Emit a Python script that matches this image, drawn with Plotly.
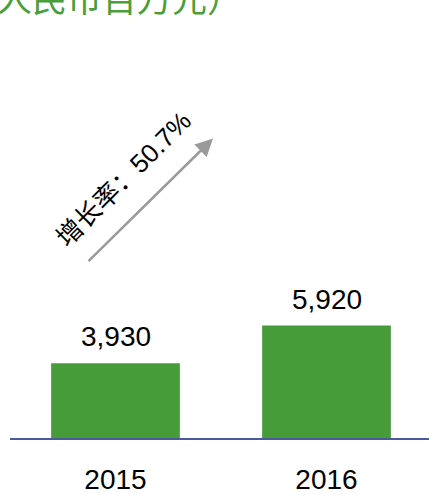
import plotly.graph_objects as go

years = ["2015", "2016"]
revenue = [3930, 5920]
value_labels = ["3,930", "5,920"]
title_text = "（人民币百万元）"
growth_text = "增长率：50.7%"

W, H = 429, 495
ml, mr, mt, mb = 10, 0, 57, 55
pw, ph = W - ml - mr, H - mt - mb

def px(x):
    return (x - ml) / pw

def py(y):
    return (H - mb - y) / ph

GREEN = "#469c38"
FONT = "Liberation Sans, Arial, Noto Sans CJK SC, sans-serif"

fig = go.Figure()
fig.add_trace(go.Bar(
    x=years, y=revenue, marker=dict(color=GREEN, line=dict(width=0)),
    width=0.61, hoverinfo="skip",
))

annotations = []
for i, (v, lab) in enumerate(zip(revenue, value_labels)):
    annotations.append(dict(
        x=i, y=v, xref="x", yref="y", text=lab, showarrow=False,
        yanchor="bottom", xanchor="center", yshift=9,
        font=dict(family=FONT, size=28, color="#000000"),
    ))

# title (partly outside the visible page)
annotations.append(dict(
    x=px(-40), y=py(-3.5), xref="paper", yref="paper", text=title_text,
    showarrow=False, xanchor="left", yanchor="middle",
    font=dict(family="Noto Sans CJK SC", size=35, color="#4a9e3a"),
))

# growth arrow
annotations.append(dict(
    x=px(213), y=py(139), xref="paper", yref="paper", text="",
    showarrow=True, ax=87 - 213, ay=263 - 139, axref="pixel", ayref="pixel",
    arrowhead=2, arrowsize=1.4, arrowwidth=2.5, arrowcolor="#9a9a9a",
    standoff=0, startstandoff=0,
))
annotations.append(dict(
    x=px(124), y=py(180), xref="paper", yref="paper", text=growth_text,
    showarrow=False, textangle=-45, xanchor="center", yanchor="middle",
    font=dict(family="Liberation Sans, Arial, Noto Sans CJK SC", size=26, color="#000000"),
))

fig.update_layout(
    width=W, height=H,
    margin=dict(l=ml, r=mr, t=mt, b=mb, pad=0),
    paper_bgcolor="white", plot_bgcolor="white",
    showlegend=False,
    annotations=annotations,
    xaxis=dict(
        type="category", range=[-0.5, -0.5 + pw / 211],
        showline=True, linecolor="#4b5a9c", linewidth=1.5,
        showgrid=False, zeroline=False, ticks="",
        tickfont=dict(family=FONT, size=28, color="#000000"),
        ticklabelstandoff=16,
    ),
    yaxis=dict(
        range=[0, ph / 0.0191], visible=False, showgrid=False, zeroline=False,
    ),
)

fig.write_html(
    "out.html",
    config={"displayModeBar": False, "staticPlot": True},
    post_script="document.body.style.margin='0';document.body.style.overflow='hidden';",
)
